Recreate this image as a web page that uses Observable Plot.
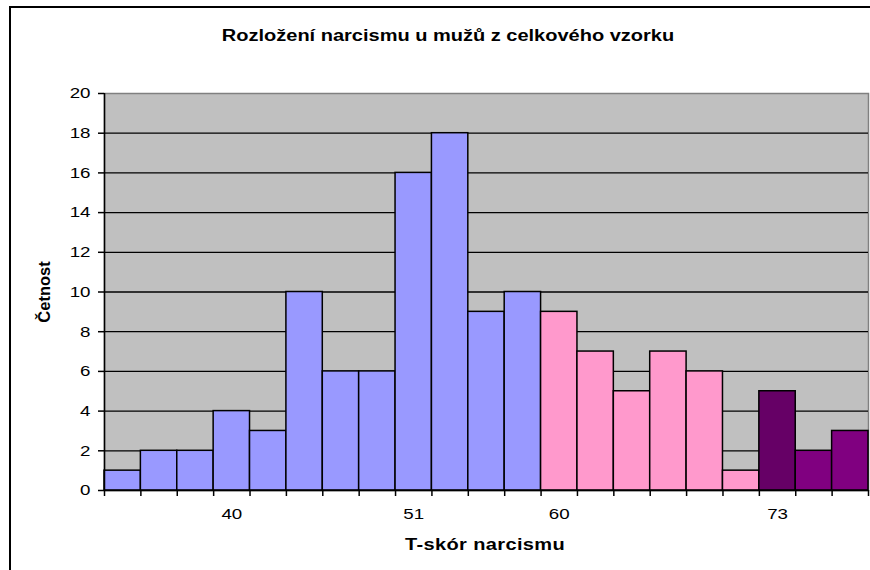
<!DOCTYPE html>
<html>
<head>
<meta charset="utf-8">
<script src="https://cdn.jsdelivr.net/npm/d3@7"></script>
<script src="https://cdn.jsdelivr.net/npm/@observablehq/plot@0.6"></script>
<style>
  html, body { margin: 0; padding: 0; background: white; }
  #chart { position: relative; width: 870px; height: 570px; overflow: hidden; }
</style>
</head>
<body>
<div id="chart"></div>
<script>
// Data
const counts = [1, 2, 2, 4, 3, 10, 6, 6, 16, 18, 9, 10, 9, 7, 5, 7, 6, 1, 5, 2, 3];
const groups = ["low","low","low","low","low","low","low","low","low","low","low","low",
                "mid","mid","mid","mid","mid","mid",
                "high","top","top"];
const tickLabels = ["", "", "", "40", "", "", "", "", "51", "", "", "", "60", "", "", "", "", "", "73", "", ""];
const yTicks = [0, 2, 4, 6, 8, 10, 12, 14, 16, 18, 20];
const groupNames = ["low", "mid", "high", "top"];
const groupColors = ["#9999FF", "#FF99CC", "#660066", "#800080"];

const titleText = "Rozložení narcismu u mužů z celkového vzorku";
const xTitle = "T-skór narcismu";
const yTitle = "Četnost";

const data = counts.map((c, i) => ({ i, c, g: groups[i] }));
const labelPos = tickLabels.map((t, i) => ({ t, i })).filter(d => d.t !== "").map(d => d.i + 0.5);

const STRETCH = 1.25;

const plot = Plot.plot({
  width: 870,
  height: 570,
  marginLeft: 104,
  marginRight: 2,
  marginTop: 93,
  marginBottom: 80,
  x: { type: "linear", domain: [0, counts.length], axis: null, label: null },
  y: { domain: [0, 20], axis: null, label: null },
  color: { domain: groupNames, range: groupColors },
  style: { fontFamily: "'Liberation Sans', Arial, sans-serif", fontSize: "15px", background: "white", color: "black" },
  marks: [
    Plot.frame({ fill: "#C0C0C0", stroke: "#808080", strokeWidth: 1.5 }),
    Plot.ruleY(yTicks.filter(v => v > 0 && v < 20), { stroke: "black", strokeWidth: 1.3 }),
    Plot.rect(data, { x1: "i", x2: d => d.i + 1, y1: 0, y2: "c", fill: "g", stroke: "black", strokeWidth: 1.5 }),
    Plot.ruleX([0], { stroke: "black", strokeWidth: 1.5 }),
    Plot.ruleY([0], { stroke: "black", strokeWidth: 1.5 }),
    Plot.axisY({ ticks: yTicks, tickSize: 6, tickPadding: 8, label: null, tickFormat: d => String(d), stroke: "black", strokeWidth: 1.5, strokeOpacity: 1 }),
    Plot.axisX({ ticks: d3.range(counts.length + 1), tickSize: 6, label: null, tickFormat: () => "", stroke: "black", strokeWidth: 1.5, strokeOpacity: 1 }),
    Plot.axisX({ ticks: labelPos, tickSize: 0, tickPadding: 18, label: null, tickFormat: d => tickLabels[Math.floor(d)] })
  ]
});

const svg = d3.select(plot);
// horizontally stretched lettering, as in the reference
svg.selectAll("g[aria-label='y-axis tick label'] text, g[aria-label='x-axis tick label'] text")
  .each(function () {
    const t = this.getAttribute("transform") || "";
    this.setAttribute("transform", t + ` scale(${STRETCH},1)`);
  });

svg.append("rect")
  .attr("x", 10).attr("y", 7).attr("width", 900).attr("height", 600)
  .attr("fill", "none").attr("stroke", "black").attr("stroke-width", 2);
svg.append("text")
  .attr("transform", `translate(448,41) scale(${STRETCH},1)`)
  .attr("text-anchor", "middle")
  .attr("font-size", "16px").attr("font-weight", "bold")
  .attr("fill", "black")
  .text(titleText);
svg.append("text")
  .attr("transform", `translate(485,550) scale(${STRETCH},1)`)
  .attr("text-anchor", "middle")
  .attr("font-size", "16px").attr("font-weight", "bold")
  .attr("letter-spacing", "0.3px")
  .attr("fill", "black")
  .text(xTitle);
svg.append("text")
  .attr("transform", "translate(50,292) rotate(-90)")
  .attr("text-anchor", "middle")
  .attr("font-size", "16.5px").attr("font-weight", "bold")
  .attr("fill", "black")
  .text(yTitle);

document.getElementById("chart").appendChild(plot);
</script>
</body>
</html>
